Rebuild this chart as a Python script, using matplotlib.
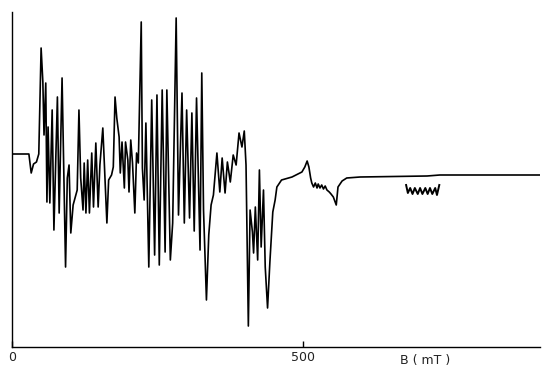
import matplotlib.pyplot as plt

# EPR spectrum, field in mT, intensity in arbitrary units (baseline ~ 0)
field = [0, 29, 33, 37, 42, 46, 50, 53, 55, 58, 60, 62, 65, 69, 72, 78, 81, 86, 92, 95,
         98, 101, 105, 112, 115, 118, 122, 124, 127, 130, 133, 137, 140, 144, 148, 151,
         156, 163, 166, 171, 174, 177, 180, 184, 186, 189, 193, 195, 199, 201, 204, 207,
         211, 214, 217, 222, 224, 227, 230, 235, 240, 245, 249, 253, 258, 263, 266, 272,
         276, 282, 286, 292, 296, 300, 305, 309, 313, 317, 323, 326, 329, 334, 338, 342,
         346, 352, 357, 361, 366, 370, 375, 380, 385, 390, 395, 399, 402, 406, 409, 413,
         415, 418, 422, 425, 428, 432, 435, 439, 443, 448, 452, 455, 463, 481, 498, 503,
         507, 510, 513, 515, 518, 521, 524, 526, 529, 532, 535, 538, 541, 545, 548, 552,
         555, 557, 560, 567, 575, 598, 713, 735, 907]
signal = [1, 1, -18, -9, -7, 1, 107, 73, 20, 72, -47, 28, -48, 45, -75, 58, -58, 77, -112, -23,
          -10, -78, -50, -35, 45, -23, -55, -8, -58, -5, -58, 2, -52, 12, -52, -10,
          27, -68, -25, -20, -12, 58, 37, 18, -18, 13, -33, 13, -5, -37, 15, -8,
          -58, 2, -8, 133, -13, -45, 32, -112, 55, -100, 60, -110, 65, -97, 65, -105,
          -68, 137, -60, 62, -68, 45, -63, 42, -76, 57, -95, 82, -55, -145, -80, -50,
          -40, 2, -37, -3, -38, -7, -27, 0, -10, 22, 8, 24, -10, -171, -55, -77,
          -98, -52, -105, -15, -92, -35, -112, -153, -107, -57, -45, -32, -25, -22, -17, -12,
          -6, -12, -23, -28, -32, -28, -33, -29, -33, -30, -34, -31, -35, -37, -39, -42,
          -47, -50, -32, -26, -23, -22, -21, -20, -20]

# magnified hyperfine detail drawn below the high-field baseline
detail_field = [677, 680, 684, 688, 692, 697, 701, 705, 710, 714, 718, 722, 727, 730, 734]
detail_signal = [-30, -38, -33, -39, -33, -39, -33, -39, -33, -39, -33, -39, -33, -40, -30]

tick_pos = [0, 500]
tick_labels = ["0", "500"]

fig = plt.figure(figsize=(5.43, 3.68), dpi=100)
ax = fig.add_axes([12 / 543, 21 / 368, 528 / 543, 335 / 368])

ax.plot(field, signal, color="black", lw=1.2)
ax.plot(detail_field, detail_signal, color="black", lw=1.4)

ax.set_xlim(0, 907)
ax.set_ylim(-192, 143)
ax.spines["top"].set_visible(False)
ax.spines["right"].set_visible(False)
ax.spines["left"].set_linewidth(1.0)
ax.spines["bottom"].set_linewidth(1.0)
ax.set_yticks([])
ax.set_xticks(tick_pos)
ax.set_xticklabels(tick_labels, fontsize=9, color="#222222")
ax.tick_params(axis="x", direction="in", length=4, width=1, pad=3)
ax.text(710, -192, "B ( mT )", fontsize=9, color="#222222",
        ha="center", va="top", transform=ax.transData,
        clip_on=False).set_y(-199)

fig.savefig("out.png", dpi=100)
